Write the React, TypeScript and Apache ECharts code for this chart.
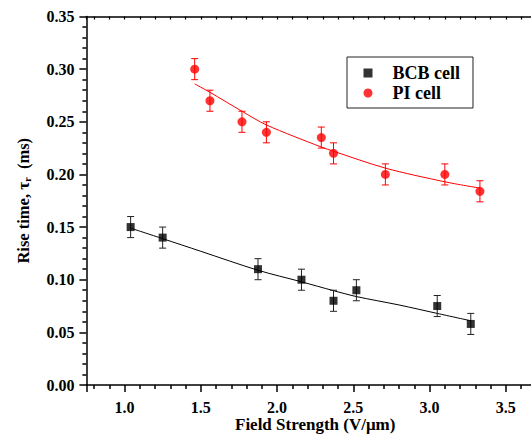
import React, { useEffect, useRef } from 'react';
import * as echarts from 'echarts';

// BCB cell (black squares)
const bcbX = [1.04, 1.25, 1.875, 2.16, 2.37, 2.52, 3.05, 3.27];
const bcbY = [0.15, 0.14, 0.11, 0.1, 0.08, 0.09, 0.075, 0.058];
const bcbErr = [0.01, 0.01, 0.01, 0.01, 0.01, 0.01, 0.01, 0.01];
// PI cell (red circles)
const piX = [1.46, 1.56, 1.77, 1.93, 2.29, 2.37, 2.71, 3.1, 3.33];
const piY = [0.3, 0.27, 0.25, 0.24, 0.235, 0.22, 0.2, 0.2, 0.184];
const piErr = [0.01, 0.01, 0.01, 0.01, 0.01, 0.01, 0.01, 0.01, 0.01];
// fitted curves
const bcbFitX = [1.04, 1.25, 1.5, 1.875, 2.16, 2.37, 2.52, 2.8, 3.05, 3.27];
const bcbFitY = [0.149, 0.139, 0.127, 0.109, 0.098, 0.0896, 0.084, 0.076, 0.068, 0.061];
const piFitX = [1.46, 1.56, 1.77, 1.93, 2.29, 2.37, 2.71, 3.1, 3.33];
const piFitY = [0.286, 0.278, 0.26, 0.247, 0.226, 0.222, 0.206, 0.193, 0.187];

const xTicks = [1.0, 1.5, 2.0, 2.5, 3.0, 3.5];

const FONT = "'Liberation Serif', 'Times New Roman', serif";
const RED = '#ff0000';

function errData(xs: number[], ys: number[], es: number[]) {
  return xs.map((x, i) => [x, ys[i] - es[i], ys[i] + es[i]]);
}

function errSeries(data: number[][], color: string) {
  return {
    type: 'custom',
    data,
    encode: { x: 0, y: [1, 2] },
    z: 3,
    silent: true,
    renderItem: (params: any, api: any) => {
      const x = api.value(0);
      const lo = api.coord([x, api.value(1)]);
      const hi = api.coord([x, api.value(2)]);
      const w = 3.5;
      const style = { stroke: color, lineWidth: 1 };
      return {
        type: 'group',
        children: [
          { type: 'line', shape: { x1: lo[0], y1: lo[1], x2: hi[0], y2: hi[1] }, style },
          { type: 'line', shape: { x1: lo[0] - w, y1: lo[1], x2: lo[0] + w, y2: lo[1] }, style },
          { type: 'line', shape: { x1: hi[0] - w, y1: hi[1], x2: hi[0] + w, y2: hi[1] }, style },
        ],
      };
    },
  };
}

export default function App() {
  const ref = useRef<HTMLDivElement>(null);
  useEffect(() => {
    if (!ref.current) return;
    const chart = echarts.init(ref.current, undefined, { renderer: 'svg' });
    const labelStyle = { fontFamily: FONT, fontWeight: 'bold', fontSize: 16, color: '#000' };
    const axisLine = { show: true, lineStyle: { color: '#000', width: 1.5 } };
    chart.setOption({
      animation: false,
      backgroundColor: '#fff',
      grid: {
        left: 86.4,
        top: 16.5,
        width: 457.6,
        height: 368.5,
        containLabel: false,
        outerBoundsMode: 'none',
      },
      legend: {
        orient: 'vertical',
        left: 347,
        top: 57,
        padding: [6, 13, 5, 16.5],
        itemGap: 0,
        itemWidth: 9,
        itemHeight: 9,
        borderColor: '#222',
        borderWidth: 1,
        selectedMode: false,
        textStyle: {
          fontFamily: FONT,
          fontWeight: 'bold',
          fontSize: 18,
          color: '#000',
          lineHeight: 20,
          padding: [0, 0, 0, 15],
        },
        data: [
          { name: 'BCB cell', icon: 'rect' },
          { name: 'PI cell', icon: 'circle' },
        ],
      },
      xAxis: [
        {
          type: 'value',
          position: 'bottom',
          min: 0.75,
          max: 3.75,
          splitNumber: 6,
          name: 'Field Strength (V/\u03bcm)',
          nameLocation: 'middle',
          nameMoveOverlap: false,
          nameGap: 29,
          nameTextStyle: {
            fontFamily: FONT,
            fontWeight: 'bold',
            fontSize: 17,
            color: '#000',
            lineHeight: 20,
            verticalAlign: 'top',
          },
          axisLine,
          axisTick: { show: true, inside: false, length: 7, lineStyle: { color: '#000', width: 1.5 } },
          minorTick: { show: true, splitNumber: 5, length: 4, lineStyle: { color: '#000', width: 1.5 } },
          splitLine: { show: false },
          axisLabel: {
            ...labelStyle,
            margin: 14,
            formatter: (v: number) =>
              xTicks.some((t) => Math.abs(t - v) < 1e-6) ? v.toFixed(1) : '',
          },
        },
        {
          type: 'value',
          position: 'top',
          min: 0.75,
          max: 3.75,
          splitNumber: 6,
          axisLine,
          axisTick: { show: true, inside: true, length: 3, lineStyle: { color: '#000', width: 1.2 } },
          minorTick: { show: true, splitNumber: 5, length: 3, lineStyle: { color: '#000', width: 1.2 } },
          splitLine: { show: false },
          axisLabel: { show: false },
        },
      ],
      yAxis: {
        type: 'value',
        min: 0,
        max: 0.35,
        interval: 0.05,
        name: '{a|Rise time, }{t|\u03c4}{s|r}{a|  (ms)}',
        nameLocation: 'middle',
        nameMoveOverlap: false,
        nameGap: 52,
        nameTextStyle: {
          fontFamily: FONT,
          fontWeight: 'bold',
          fontSize: 16,
          color: '#000',
          rich: {
            a: { fontFamily: FONT, fontWeight: 'bold', fontSize: 16.5, color: '#000', lineHeight: 22 },
            t: { fontFamily: FONT, fontWeight: 'bold', fontSize: 17.5, color: '#000', lineHeight: 22 },
            s: { fontFamily: FONT, fontWeight: 'bold', fontSize: 10, color: '#000', lineHeight: 22, padding: [9, 0, 0, 0] },
          },
        },
        axisLine,
        axisTick: { show: true, inside: false, length: 7, lineStyle: { color: '#000', width: 1.5 } },
        minorTick: { show: true, splitNumber: 5, length: 4, lineStyle: { color: '#000', width: 1.5 } },
        splitLine: { show: false },
        axisLabel: { ...labelStyle, margin: 12, formatter: (v: number) => v.toFixed(2) },
      },
      series: [
        {
          type: 'line',
          name: 'BCB fit',
          data: bcbFitX.map((x, i) => [x, bcbFitY[i]]),
          smooth: 0.3,
          showSymbol: false,
          symbol: 'none',
          lineStyle: { color: '#000', width: 1 },
          z: 2,
          silent: true,
        },
        {
          type: 'line',
          name: 'PI fit',
          data: piFitX.map((x, i) => [x, piFitY[i]]),
          smooth: 0.3,
          showSymbol: false,
          symbol: 'none',
          lineStyle: { color: RED, width: 1 },
          z: 2,
          silent: true,
        },
        errSeries(errData(bcbX, bcbY, bcbErr), '#222'),
        errSeries(errData(piX, piY, piErr), RED),
        {
          type: 'scatter',
          name: 'BCB cell',
          data: bcbX.map((x, i) => [x, bcbY[i]]),
          symbol: 'rect',
          symbolSize: 8,
          itemStyle: { color: '#000' },
          z: 4,
        },
        {
          type: 'scatter',
          name: 'PI cell',
          data: piX.map((x, i) => [x, piY[i]]),
          symbol: 'circle',
          symbolSize: 9,
          itemStyle: { color: RED },
          z: 4,
        },
      ],
    });
    return () => chart.dispose();
  }, []);
  return (
    <div
      ref={ref}
      style={{ position: 'fixed', left: 0, top: 0, width: 531, height: 436, background: '#fff' }}
    />
  );
}
